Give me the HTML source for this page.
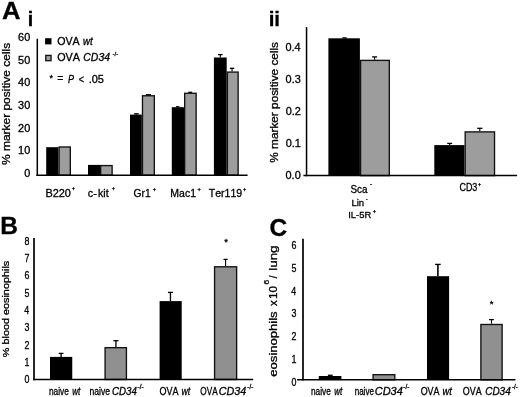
<!DOCTYPE html>
<html><head><meta charset="utf-8"><style>
html,body{margin:0;padding:0;background:#fff;width:520px;height:397px;overflow:hidden}
svg{display:block;font-family:"Liberation Sans",sans-serif;font-kerning:none;will-change:transform}
text{stroke:#000;stroke-width:0.3px}
</style></head><body>
<svg width="520" height="397" viewBox="0 0 520 397">
<rect width="520" height="397" fill="#fff"/>
<text transform="translate(1.96,19.00) scale(1.046,1)" font-size="24.5" font-weight="bold">A</text>
<text transform="translate(27.63,26.00) scale(0.984,1)" font-size="20" font-weight="bold">i</text>
<line x1="37.30" y1="38.80" x2="37.30" y2="176.00" stroke="#000" stroke-width="1.5"/>
<text transform="translate(24.15,176.90) scale(1.040,1)" font-size="10.5">0</text>
<text transform="translate(18.08,154.22) scale(1.040,1)" font-size="10.5">10</text>
<text transform="translate(18.08,131.54) scale(1.040,1)" font-size="10.5">20</text>
<text transform="translate(18.08,108.86) scale(1.040,1)" font-size="10.5">30</text>
<text transform="translate(18.08,86.18) scale(1.040,1)" font-size="10.5">40</text>
<text transform="translate(18.08,63.50) scale(1.040,1)" font-size="10.5">50</text>
<text transform="translate(18.08,40.82) scale(1.040,1)" font-size="10.5">60</text>
<rect x="46.20" y="147.20" width="12.20" height="28.00" fill="#000"/>
<rect x="59.07" y="146.98" width="11.25" height="28.22" fill="#9d9d9d" stroke="#111" stroke-width="1.35"/>
<rect x="88.00" y="164.90" width="12.00" height="10.30" fill="#000"/>
<rect x="100.67" y="165.58" width="11.45" height="9.62" fill="#9d9d9d" stroke="#111" stroke-width="1.35"/>
<rect x="130.00" y="114.60" width="11.80" height="60.60" fill="#000"/>
<rect x="142.48" y="95.77" width="11.85" height="79.42" fill="#9d9d9d" stroke="#111" stroke-width="1.35"/>
<rect x="171.80" y="107.20" width="12.20" height="68.00" fill="#000"/>
<rect x="184.68" y="93.27" width="11.45" height="81.92" fill="#9d9d9d" stroke="#111" stroke-width="1.35"/>
<rect x="213.90" y="57.50" width="12.80" height="117.70" fill="#000"/>
<rect x="227.38" y="72.08" width="10.75" height="103.12" fill="#9d9d9d" stroke="#111" stroke-width="1.35"/>
<line x1="136.40" y1="113.80" x2="136.40" y2="114.60" stroke="#000" stroke-width="1.1"/>
<line x1="134.00" y1="113.80" x2="138.80" y2="113.80" stroke="#000" stroke-width="1.3"/>
<line x1="148.40" y1="94.70" x2="148.40" y2="95.10" stroke="#000" stroke-width="1.1"/>
<line x1="145.80" y1="94.70" x2="151.00" y2="94.70" stroke="#000" stroke-width="1.3"/>
<line x1="220.30" y1="54.60" x2="220.30" y2="57.50" stroke="#000" stroke-width="1.1"/>
<line x1="218.00" y1="54.60" x2="222.60" y2="54.60" stroke="#000" stroke-width="1.3"/>
<line x1="232.05" y1="68.30" x2="232.05" y2="71.40" stroke="#000" stroke-width="1.1"/>
<line x1="229.85" y1="68.30" x2="234.25" y2="68.30" stroke="#000" stroke-width="1.3"/>
<line x1="177.70" y1="106.80" x2="177.70" y2="107.20" stroke="#000" stroke-width="1.1"/>
<line x1="175.90" y1="106.80" x2="179.50" y2="106.80" stroke="#000" stroke-width="1.3"/>
<line x1="190.20" y1="92.30" x2="190.20" y2="92.60" stroke="#000" stroke-width="1.1"/>
<line x1="188.30" y1="92.30" x2="192.10" y2="92.30" stroke="#000" stroke-width="1.3"/>
<line x1="36.40" y1="175.20" x2="247.60" y2="175.20" stroke="#000" stroke-width="1.4"/>
<text transform="translate(45.40,196.90) scale(1.041,1)" font-size="10.5">B220</text>
<text x="71.84" y="189.80" font-size="5.4">+</text>
<text transform="translate(87.84,196.90) scale(1.034,1)" font-size="10.5">c-</text>
<text transform="translate(97.99,196.90) scale(1.009,1)" font-size="10.5">kit</text>
<text x="111.73" y="190.40" font-size="5.6">+</text>
<text transform="translate(133.58,196.90) scale(0.978,1)" font-size="10.5">Gr1</text>
<text x="152.63" y="190.60" font-size="5.5">+</text>
<text x="170.34" y="196.90" font-size="10.5">Mac1</text>
<text x="197.43" y="190.90" font-size="5.6">+</text>
<text x="208.86" y="196.90" font-size="10.5">Ter119</text>
<text x="243.03" y="191.40" font-size="5.5">+</text>
<rect x="45.10" y="38.20" width="6.40" height="6.20" fill="#000"/>
<rect x="45.75" y="55.40" width="5.30" height="5.30" fill="#9d9d9d" stroke="#111" stroke-width="1.3"/>
<text transform="translate(57.19,45.10) scale(1.036,1)" font-size="10.3">OVA</text>
<text transform="translate(83.12,45.10) scale(0.937,1)" font-size="10.3" font-style="italic">wt</text>
<text transform="translate(57.19,61.30) scale(1.045,1)" font-size="10.3">OVA</text>
<text transform="translate(83.32,61.30) scale(1.013,1)" font-size="10.3" font-style="italic">CD34</text>
<text x="112.53" y="56.00" font-size="6.0">-/-</text>
<text x="49.45" y="81.30" font-size="9.0">*</text>
<text x="57.30" y="81.80" font-size="10.3">=</text>
<text transform="translate(68.12,82.60) scale(0.879,1)" font-size="10.3" font-style="italic">P</text>
<text transform="translate(78.65,82.60) scale(0.879,1)" font-size="10.3">&lt;</text>
<text transform="translate(88.70,82.60) scale(1.066,1)" font-size="10.3">.05</text>
<text transform="translate(10.30,165.03) rotate(-90) scale(1.162,1)" font-size="10.3">% marker positive cells</text>
<text transform="translate(268.67,26.00) scale(1.024,1)" font-size="20" font-weight="bold">ii</text>
<line x1="306.55" y1="27.10" x2="306.55" y2="176.30" stroke="#000" stroke-width="1.5"/>
<text transform="translate(285.55,179.30) scale(1.060,1)" font-size="10.3">0.0</text>
<text transform="translate(285.66,147.20) scale(1.060,1)" font-size="10.3">0.1</text>
<text transform="translate(285.67,115.10) scale(1.060,1)" font-size="10.3">0.2</text>
<text transform="translate(285.60,83.00) scale(1.060,1)" font-size="10.3">0.3</text>
<text transform="translate(285.44,50.90) scale(1.060,1)" font-size="10.3">0.4</text>
<rect x="328.40" y="38.30" width="31.50" height="137.30" fill="#000"/>
<rect x="360.57" y="60.38" width="28.75" height="115.22" fill="#9d9d9d" stroke="#111" stroke-width="1.35"/>
<rect x="434.30" y="145.10" width="30.20" height="30.50" fill="#000"/>
<rect x="465.18" y="131.88" width="29.35" height="43.73" fill="#9d9d9d" stroke="#111" stroke-width="1.35"/>
<line x1="344.50" y1="37.90" x2="344.50" y2="38.30" stroke="#000" stroke-width="1.1"/>
<line x1="342.30" y1="37.90" x2="346.70" y2="37.90" stroke="#000" stroke-width="1.3"/>
<line x1="374.60" y1="56.90" x2="374.60" y2="59.70" stroke="#000" stroke-width="1.1"/>
<line x1="372.10" y1="56.90" x2="377.10" y2="56.90" stroke="#000" stroke-width="1.3"/>
<line x1="449.70" y1="143.40" x2="449.70" y2="145.10" stroke="#000" stroke-width="1.1"/>
<line x1="447.20" y1="143.40" x2="452.20" y2="143.40" stroke="#000" stroke-width="1.3"/>
<line x1="479.80" y1="128.30" x2="479.80" y2="131.20" stroke="#000" stroke-width="1.1"/>
<line x1="477.20" y1="128.30" x2="482.40" y2="128.30" stroke="#000" stroke-width="1.3"/>
<line x1="303.40" y1="175.60" x2="517.10" y2="175.60" stroke="#000" stroke-width="1.5"/>
<text transform="translate(350.45,192.50) scale(0.964,1)" font-size="10.2">Sca</text>
<text x="370.01" y="186.00" font-size="6.5">-</text>
<text x="351.42" y="205.50" font-size="9.5">Lin</text>
<text x="365.83" y="201.30" font-size="6.0">-</text>
<text transform="translate(348.23,218.20) scale(0.955,1)" font-size="9.9">IL-5R</text>
<text x="372.71" y="213.20" font-size="6.0">+</text>
<text transform="translate(459.44,191.40) scale(0.871,1)" font-size="10.3">CD3</text>
<text x="478.04" y="186.20" font-size="5.3">+</text>
<text transform="translate(278.30,162.72) rotate(-90) scale(1.147,1)" font-size="10.3">% marker positive cells</text>
<text x="0.15" y="234.30" font-size="24.5" font-weight="bold">B</text>
<line x1="34.00" y1="238.00" x2="34.00" y2="380.20" stroke="#000" stroke-width="1.7"/>
<text transform="translate(24.40,383.10) scale(0.840,1)" font-size="10.6">0</text>
<text transform="translate(24.48,365.80) scale(0.840,1)" font-size="10.6">1</text>
<text transform="translate(24.50,348.50) scale(0.840,1)" font-size="10.6">2</text>
<text transform="translate(24.44,331.20) scale(0.840,1)" font-size="10.6">3</text>
<text transform="translate(24.31,313.90) scale(0.840,1)" font-size="10.6">4</text>
<text transform="translate(24.42,296.60) scale(0.840,1)" font-size="10.6">5</text>
<text transform="translate(24.44,279.30) scale(0.840,1)" font-size="10.6">6</text>
<text transform="translate(24.50,262.00) scale(0.840,1)" font-size="10.6">7</text>
<text transform="translate(24.43,244.70) scale(0.840,1)" font-size="10.6">8</text>
<rect x="50.00" y="356.90" width="22.25" height="22.60" fill="#000"/>
<rect x="105.08" y="347.68" width="21.35" height="31.82" fill="#909090" stroke="#111" stroke-width="1.35"/>
<rect x="159.60" y="301.10" width="22.10" height="78.40" fill="#000"/>
<rect x="214.58" y="266.78" width="22.05" height="112.72" fill="#909090" stroke="#111" stroke-width="1.35"/>
<line x1="61.10" y1="353.40" x2="61.10" y2="356.90" stroke="#000" stroke-width="1.35"/>
<line x1="58.70" y1="353.40" x2="63.50" y2="353.40" stroke="#000" stroke-width="1.3"/>
<line x1="115.95" y1="340.70" x2="115.95" y2="347.00" stroke="#000" stroke-width="1.3"/>
<line x1="113.45" y1="340.70" x2="118.45" y2="340.70" stroke="#000" stroke-width="1.3"/>
<line x1="170.45" y1="292.40" x2="170.45" y2="301.10" stroke="#000" stroke-width="1.3"/>
<line x1="167.95" y1="292.40" x2="172.95" y2="292.40" stroke="#000" stroke-width="1.3"/>
<line x1="225.60" y1="259.40" x2="225.60" y2="266.10" stroke="#000" stroke-width="1.1"/>
<line x1="223.50" y1="259.40" x2="227.70" y2="259.40" stroke="#000" stroke-width="1.3"/>
<line x1="33.00" y1="379.50" x2="253.10" y2="379.50" stroke="#000" stroke-width="1.4"/>
<text x="224.25" y="244.50" font-size="9.5">*</text>
<text transform="translate(48.95,395.30) scale(0.786,1)" font-size="10.6">naive</text>
<text transform="translate(72.20,395.30) scale(0.766,1)" font-size="10.6" font-style="italic">wt</text>
<text transform="translate(89.43,395.30) scale(0.811,1)" font-size="10.6">naive</text>
<text transform="translate(112.06,395.30) scale(0.919,1)" font-size="10.6" font-style="italic">CD34</text>
<text x="137.62" y="388.70" font-size="6.3">-/-</text>
<text transform="translate(159.47,395.30) scale(0.851,1)" font-size="10.6">OVA</text>
<text transform="translate(181.57,395.30) scale(0.824,1)" font-size="10.6" font-style="italic">wt</text>
<text transform="translate(200.31,395.30) scale(0.773,1)" font-size="10.6">OVA</text>
<text transform="translate(218.81,395.30) scale(1.015,1)" font-size="10.6" font-style="italic">CD34</text>
<text x="247.32" y="388.70" font-size="6.3">-/-</text>
<text transform="translate(8.70,357.19) rotate(-90) scale(1.107,1)" font-size="9.8">% blood eosinophils</text>
<text x="269.40" y="236.20" font-size="24.5" font-weight="bold">C</text>
<line x1="303.00" y1="238.70" x2="303.00" y2="380.60" stroke="#000" stroke-width="1.7"/>
<text transform="translate(291.40,385.70) scale(0.840,1)" font-size="10.6">0</text>
<text transform="translate(291.48,362.95) scale(0.840,1)" font-size="10.6">1</text>
<text transform="translate(291.50,340.20) scale(0.840,1)" font-size="10.6">2</text>
<text transform="translate(291.44,317.45) scale(0.840,1)" font-size="10.6">3</text>
<text transform="translate(291.31,294.70) scale(0.840,1)" font-size="10.6">4</text>
<text transform="translate(291.42,271.95) scale(0.840,1)" font-size="10.6">5</text>
<text transform="translate(291.44,249.20) scale(0.840,1)" font-size="10.6">6</text>
<rect x="318.80" y="376.00" width="22.60" height="3.80" fill="#000"/>
<rect x="373.07" y="374.68" width="21.75" height="5.13" fill="#909090" stroke="#111" stroke-width="1.35"/>
<rect x="427.00" y="276.20" width="22.10" height="103.60" fill="#000"/>
<rect x="480.88" y="324.48" width="21.25" height="55.33" fill="#909090" stroke="#111" stroke-width="1.35"/>
<line x1="330.30" y1="375.30" x2="330.30" y2="376.00" stroke="#000" stroke-width="1.1"/>
<line x1="327.90" y1="375.30" x2="332.70" y2="375.30" stroke="#000" stroke-width="1.3"/>
<line x1="437.90" y1="264.40" x2="437.90" y2="276.20" stroke="#000" stroke-width="1.6"/>
<line x1="435.10" y1="264.40" x2="440.70" y2="264.40" stroke="#000" stroke-width="1.3"/>
<line x1="491.50" y1="319.60" x2="491.50" y2="323.80" stroke="#000" stroke-width="1.1"/>
<line x1="489.10" y1="319.60" x2="493.90" y2="319.60" stroke="#000" stroke-width="1.3"/>
<line x1="297.10" y1="379.80" x2="515.50" y2="379.80" stroke="#000" stroke-width="1.6"/>
<text x="489.75" y="307.10" font-size="9.5">*</text>
<text transform="translate(310.95,395.30) scale(0.786,1)" font-size="10.6">naive</text>
<text transform="translate(334.20,395.30) scale(0.766,1)" font-size="10.6" font-style="italic">wt</text>
<text transform="translate(354.66,395.30) scale(0.761,1)" font-size="10.6">naive</text>
<text transform="translate(374.80,395.30) scale(1.034,1)" font-size="10.6" font-style="italic">CD34</text>
<text x="403.32" y="388.70" font-size="6.3">-/-</text>
<text transform="translate(420.68,395.30) scale(0.842,1)" font-size="10.6">OVA</text>
<text transform="translate(442.53,395.30) scale(0.881,1)" font-size="10.6" font-style="italic">wt</text>
<text transform="translate(462.78,395.30) scale(0.842,1)" font-size="10.6">OVA</text>
<text transform="translate(485.15,395.30) scale(0.946,1)" font-size="10.6" font-style="italic">CD34</text>
<text x="511.92" y="388.70" font-size="6.3">-/-</text>
<text transform="translate(277.10,376.65) rotate(-90) scale(1.268,1)" font-size="10.3">eosinophils</text>
<text transform="translate(277.10,306.03) rotate(-90) scale(1.117,1)" font-size="10.3">x</text>
<text transform="translate(277.10,298.89) rotate(-90) scale(1.139,1)" font-size="10.3">10</text>
<text transform="translate(269.20,284.43) rotate(-90) scale(1.084,1)" font-size="7.8">6</text>
<text transform="translate(277.10,278.18) rotate(-90) scale(1.000,1)" font-size="10.3">/</text>
<text transform="translate(277.10,270.80) rotate(-90) scale(1.303,1)" font-size="10.3">lung</text>
</svg>
</body></html>
